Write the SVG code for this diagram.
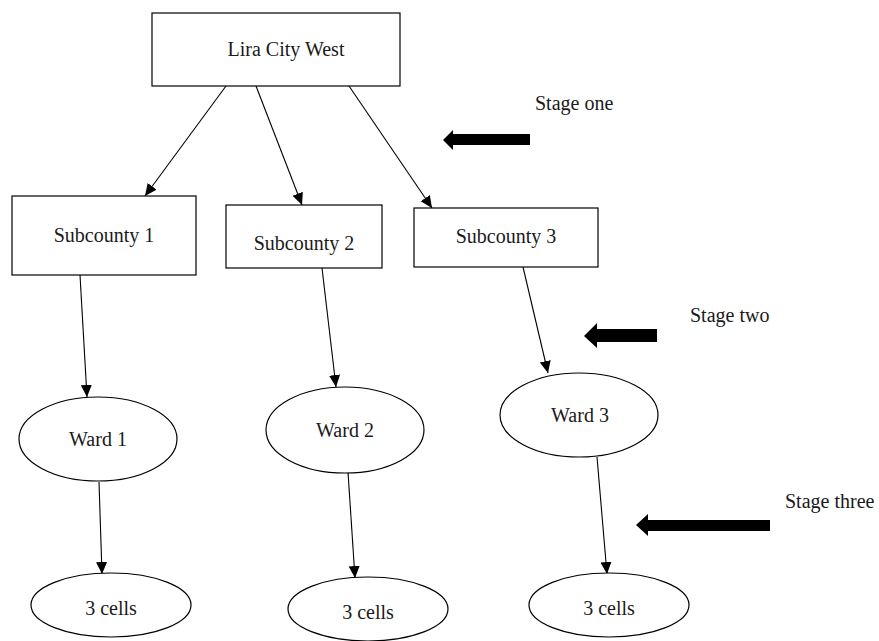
<svg xmlns="http://www.w3.org/2000/svg" width="879" height="641" viewBox="0 0 879 641">
<style>
.box{fill:#fff;stroke:#000;stroke-width:1.2}
.t{font-family:"Liberation Serif","Times New Roman",serif;font-size:20px;fill:#1a1a1a;text-anchor:middle}
.s{font-family:"Liberation Serif","Times New Roman",serif;font-size:20px;fill:#1a1a1a}
.c{stroke:#000;stroke-width:1.1;fill:none;marker-end:url(#ah)}
.big{fill:#000}
</style>
<defs>
<marker id="ah" markerUnits="userSpaceOnUse" markerWidth="12" markerHeight="12" refX="13" refY="6" orient="auto" viewBox="0 0 13 12">
<path d="M0,0 L13,6 L0,12 z" fill="#000"/>
</marker>
</defs>
<rect width="879" height="641" fill="#fff"/>
<g id="connectors">
<line class="c" x1="226" y1="86" x2="145" y2="196"/>
<line class="c" x1="256" y1="86" x2="302" y2="205"/>
<line class="c" x1="349" y1="86" x2="432" y2="208"/>
<line class="c" x1="80" y1="275" x2="87" y2="397"/>
<line class="c" x1="322" y1="268" x2="336" y2="387"/>
<line class="c" x1="523" y1="267" x2="548" y2="373"/>
<line class="c" x1="99" y1="482" x2="102" y2="574"/>
<line class="c" x1="348" y1="472" x2="355" y2="578"/>
<line class="c" x1="597" y1="457" x2="607" y2="574"/>
</g>
<g id="lira">
<rect class="box" x="152" y="13" width="248" height="73"/>
<text class="t" x="286" y="56">Lira City West</text>
</g>
<g id="sub1">
<rect class="box" x="12" y="196" width="184" height="79"/>
<text class="t" x="104" y="242">Subcounty 1</text>
</g>
<g id="sub2">
<rect class="box" x="226" y="205" width="156" height="63"/>
<text class="t" x="304" y="250">Subcounty 2</text>
</g>
<g id="sub3">
<rect class="box" x="414" y="208" width="184" height="59"/>
<text class="t" x="506" y="243">Subcounty 3</text>
</g>
<g id="ward1">
<ellipse class="box" cx="98" cy="439" rx="79" ry="42"/>
<text class="t" x="98" y="446">Ward 1</text>
</g>
<g id="ward2">
<ellipse class="box" cx="345" cy="430" rx="79" ry="43"/>
<text class="t" x="345" y="437">Ward 2</text>
</g>
<g id="ward3">
<ellipse class="box" cx="579" cy="415" rx="79" ry="42"/>
<text class="t" x="580" y="422">Ward 3</text>
</g>
<g id="cells1">
<ellipse class="box" cx="111" cy="605" rx="80" ry="32"/>
<text class="t" x="111" y="615">3 cells</text>
</g>
<g id="cells2">
<ellipse class="box" cx="368" cy="609" rx="80" ry="32"/>
<text class="t" x="368" y="619">3 cells</text>
</g>
<g id="cells3">
<ellipse class="box" cx="609" cy="605" rx="80" ry="32"/>
<text class="t" x="609" y="615">3 cells</text>
</g>
<g id="stage1">
<polygon class="big" points="443,140 453,130 453,134 530,134 530,145 453,145 453,150"/>
<text class="s" x="535" y="110">Stage one</text>
</g>
<g id="stage2">
<polygon class="big" points="584,336 597,323 597,329 657,329 657,342 597,342 597,348"/>
<text class="s" x="690" y="322">Stage two</text>
</g>
<g id="stage3">
<polygon class="big" points="636,525 648,514 648,520 770,520 770,531 648,531 648,536"/>
<text class="s" x="785" y="508">Stage three</text>
</g>
</svg>
